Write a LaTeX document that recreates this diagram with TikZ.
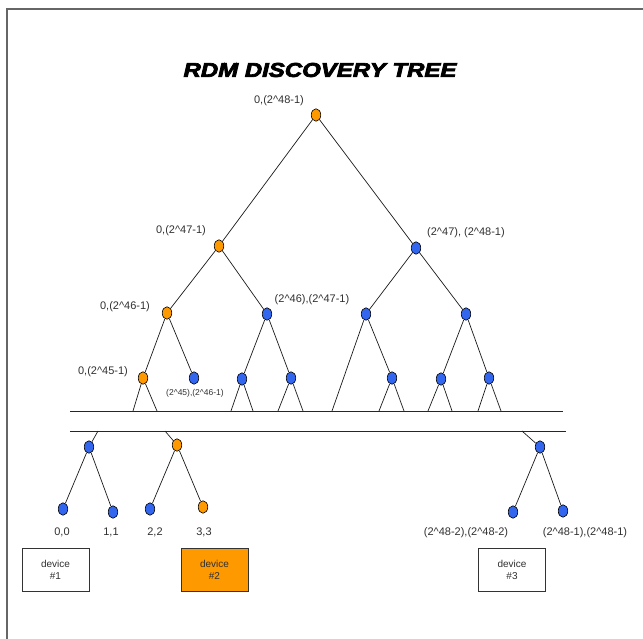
\documentclass[tikz,border=0pt]{standalone}
\usepackage{fontspec}
\usepackage{graphicx}
\setmainfont{Liberation Sans}
\newfontfamily\titlefont{Liberation Sans}[BoldItalicFeatures={FakeBold=3.5}]
\usetikzlibrary{shapes.geometric}
\definecolor{dotorange}{HTML}{FF9900}
\definecolor{dotblue}{HTML}{3366EE}
\definecolor{framegray}{HTML}{666666}
\definecolor{txt}{HTML}{303030}
\tikzset{
  dot/.style={ellipse, draw=black, line width=0.6pt, inner sep=0pt, minimum width=9.5pt, minimum height=12.5pt},
  od/.style={dot, fill=dotorange},
  bd/.style={dot, fill=dotblue},
  lab/.style={font=\fontsize{11}{13}\selectfont, text=txt, inner sep=0pt},
  slab/.style={font=\fontsize{8.5}{10}\selectfont, text=txt, inner sep=0pt},
  edge/.style={draw=black!90, line width=0.7pt},
  devbox/.style={draw=black!80, line width=1pt, minimum width=67pt, minimum height=43pt, inner sep=0pt, align=center, font=\fontsize{10}{12}\selectfont, text=txt},
  bar/.style={draw=black!85, line width=1pt}
}
\begin{document}
\begin{tikzpicture}[x=1pt,y=-1pt]
\useasboundingbox (0,0) rectangle (643,639);
% frame
\draw[framegray, line width=2pt] (7,639) -- (7,9) -- (643,9);
% title
\node (title) at (320,70) {\scalebox{1.2}[1]{\titlefont\bfseries\itshape\fontsize{20}{24}\selectfont RDM DISCOVERY TREE}};
% tree nodes
\node[od] (r) at (316,115) {};
\node[od] (a) at (219,246) {};
\node[bd] (b) at (416,248) {};
\node[od] (aa) at (167,313) {};
\node[bd] (ab) at (267,314) {};
\node[bd] (ba) at (366,314) {};
\node[bd] (bb) at (466,314) {};
\node[od] (aaa) at (143,378) {};
\node[bd] (aab) at (194,378) {};
\node[bd] (aba) at (242,379) {};
\node[bd] (abb) at (291,378) {};
\node[bd] (bab) at (392,378) {};
\node[bd] (bba) at (441,379) {};
\node[bd] (bbb) at (489,378) {};
% labels
\node[lab] (lr) at (279,101) {0,(2\^{}48-1)};
\node[lab] (la) at (181,231) {0,(2\^{}47-1)};
\node[lab] (lb) at (466,233) {(2\^{}47), (2\^{}48-1)};
\node[lab] (laa) at (125,307) {0,(2\^{}46-1)};
\node[lab] (lab) at (312,300) {(2\^{}46),(2\^{}47-1)};
\node[lab] (laaa) at (103,372) {0,(2\^{}45-1)};
\node[slab] (laab) at (195,393) {(2\^{}45),(2\^{}46-1)};
% bar ends
\coordinate (t1) at (70,411);
\coordinate (t2) at (563,411);
\coordinate (u1) at (70,431);
\coordinate (u2) at (566,431);
\draw[bar] (t1) -- (t2);
\draw[bar] (u1) -- (u2);
% edges
\draw[edge] (r) -- (a);
\draw[edge] (r) -- (b);
\draw[edge] (a) -- (aa);
\draw[edge] (a) -- (ab);
\draw[edge] (b) -- (ba);
\draw[edge] (b) -- (bb);
\draw[edge] (aa) -- (aaa);
\draw[edge] (aa) -- (aab);
\draw[edge] (ab) -- (aba);
\draw[edge] (ab) -- (abb);
\draw[edge] (ba) -- (bab);
\draw[edge] (bb) -- (bba);
\draw[edge] (bb) -- (bbb);
% lines down to the bar
\coordinate (e1) at (133,411); \coordinate (e2) at (157,411);
\coordinate (e3) at (231,411); \coordinate (e4) at (253,411);
\coordinate (e5) at (278,411); \coordinate (e6) at (303,411);
\coordinate (e7) at (332,411);
\coordinate (e8) at (379,411); \coordinate (e9) at (404,411);
\coordinate (e10) at (428,411); \coordinate (e11) at (452,411);
\coordinate (e12) at (478,411); \coordinate (e13) at (501,411);
\draw[edge] (aaa) -- (e1);
\draw[edge] (aaa) -- (e2);
\draw[edge] (aba) -- (e3);
\draw[edge] (aba) -- (e4);
\draw[edge] (abb) -- (e5);
\draw[edge] (abb) -- (e6);
\draw[edge] (ba) -- (e7);
\draw[edge] (bab) -- (e8);
\draw[edge] (bab) -- (e9);
\draw[edge] (bba) -- (e10);
\draw[edge] (bba) -- (e11);
\draw[edge] (bbb) -- (e12);
\draw[edge] (bbb) -- (e13);
% lower part
\node[bd] (p) at (89,447) {};
\node[od] (q) at (177,445) {};
\node[bd] (s) at (540,447) {};
\coordinate (f1) at (98,431);
\coordinate (f2) at (165,431);
\coordinate (f3) at (522,431);
\draw[edge] (f1) -- (p);
\draw[edge] (f2) -- (q);
\draw[edge] (f3) -- (s);
\node[bd] (l0) at (63,509) {};
\node[bd] (l1) at (113,512) {};
\node[bd] (l2) at (150,509) {};
\node[od] (l3) at (203,507) {};
\node[bd] (l4) at (513,512) {};
\node[bd] (l5) at (563,511) {};
\draw[edge] (p) -- (l0);
\draw[edge] (p) -- (l1);
\draw[edge] (q) -- (l2);
\draw[edge] (q) -- (l3);
\draw[edge] (s) -- (l4);
\draw[edge] (s) -- (l5);
\node[lab] (k0) at (62,532) {0,0};
\node[lab] (k1) at (111,532) {1,1};
\node[lab] (k2) at (155,532) {2,2};
\node[lab] (k3) at (204,532) {3,3};
\node[lab] (k4) at (466,533) {(2\^{}48-2),(2\^{}48-2)};
\node[lab] (k5) at (585,533) {(2\^{}48-1),(2\^{}48-1)};
% device boxes
\node[devbox, fill=white] (d1) at (55.5,569.5) {device\\\#1};
\node[devbox, fill=dotorange] (d2) at (214.5,569.5) {device\\\#2};
\node[devbox, fill=white] (d3) at (512,569.5) {device\\\#3};
\end{tikzpicture}
\end{document}
